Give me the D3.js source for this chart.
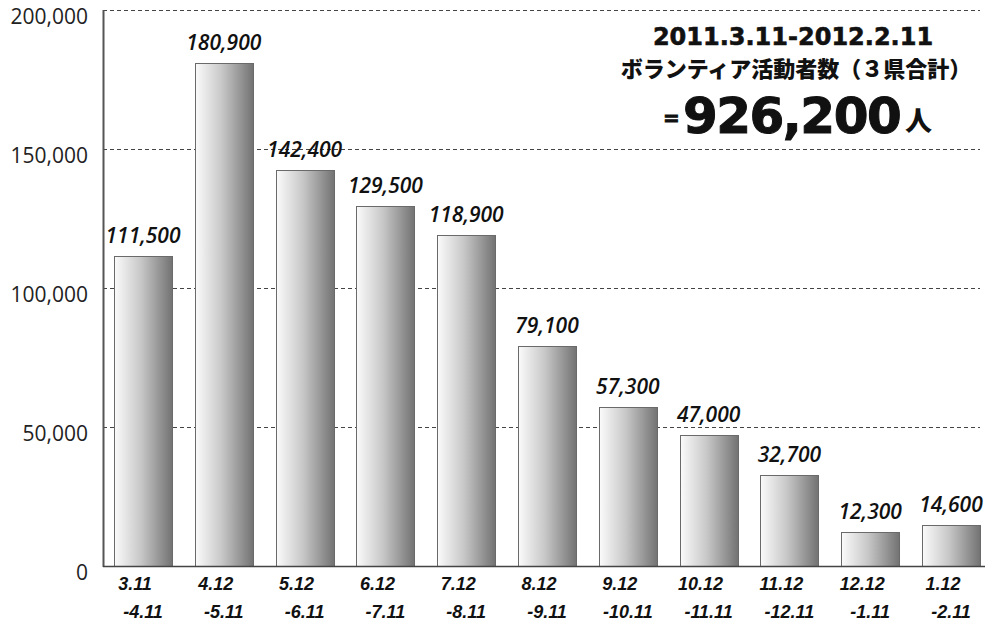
<!DOCTYPE html>
<html><head><meta charset="utf-8">
<script src="https://cdn.jsdelivr.net/npm/d3@7"></script>
<style>
html,body{margin:0;padding:0;background:#fff;}
svg{display:block;}
</style></head>
<body>
<svg id="chart" width="985" height="625"></svg>
<script>
const periodStart = ["3.11","4.12","5.12","6.12","7.12","8.12","9.12","10.12","11.12","12.12","1.12"];
const periodEnd = ["-4.11","-5.11","-6.11","-7.11","-8.11","-9.11","-10.11","-11.11","-12.11","-1.11","-2.11"];
const volunteers = [111500,180900,142400,129500,118900,79100,57300,47000,32700,12300,14600];
const yTicks = [0,50000,100000,150000,200000];
const titleLines = ["2011.3.11-2012.2.11","ボランティア活動者数（３県合計）"];
const totalValue = 926200;
const totalUnit = "人";

(function(){
const svg = d3.select("#chart");
const pLeft = 103, pRight = 980, pTop = 10, pBottom = 566;

const x = d3.scaleBand().domain(d3.range(volunteers.length))
  .range([102.6, 991.4]).paddingInner(0.282).paddingOuter(0.141);
const y = d3.scaleLinear().domain([0,200000]).range([pBottom, pTop]);

const defs = svg.append("defs");
const g = defs.append("linearGradient").attr("id","barGrad").attr("x1","0").attr("x2","1").attr("y1","0").attr("y2","0");
g.append("stop").attr("offset","0%").attr("stop-color","#fbfbfb");
g.append("stop").attr("offset","45%").attr("stop-color","#c8c8c8");
g.append("stop").attr("offset","100%").attr("stop-color","#727272");

// gridlines
svg.append("g").selectAll("line").data(yTicks.filter(d=>d>0)).join("line")
  .attr("x1", pLeft).attr("x2", pRight)
  .attr("y1", d=>Math.round(y(d))+0.5).attr("y2", d=>Math.round(y(d))+0.5)
  .attr("stroke","#444").attr("stroke-width",1).attr("stroke-dasharray","4,3");

// y axis labels
const yAxis = d3.axisLeft(y).tickValues(yTicks).tickSize(0).tickPadding(15)
  .tickFormat(d3.format(","));
const ya = svg.append("g").attr("transform",`translate(${pLeft},7)`).call(yAxis);
ya.select(".domain").remove();
ya.selectAll("text").attr("font-family","'Open Sans', 'Noto Sans', sans-serif")
  .attr("font-size",21).attr("fill","#222");

// bars
svg.append("g").selectAll("rect").data(volunteers).join("rect")
  .attr("x",(d,i)=>Math.round(x(i))+0.5)
  .attr("y",d=>Math.round(y(d))+0.5)
  .attr("width",Math.round(x.bandwidth()))
  .attr("height",d=>Math.round(pBottom - y(d)))
  .attr("fill","url(#barGrad)")
  .attr("stroke","#6a6a6a").attr("stroke-width",1);

// axis lines
svg.append("line").attr("x1",pLeft+0.5).attr("x2",pLeft+0.5).attr("y1",pTop).attr("y2",pBottom+1)
  .attr("stroke","#555").attr("stroke-width",2);
svg.append("line").attr("x1",pLeft).attr("x2",985).attr("y1",pBottom+0.5).attr("y2",pBottom+0.5)
  .attr("stroke","#444").attr("stroke-width",1.5);

// value labels
svg.append("g").selectAll("text").data(volunteers).join("text")
  .attr("x",(d,i)=>x(i)+x.bandwidth()/2)
  .attr("y",d=>y(d)-13)
  .attr("text-anchor","middle")
  .attr("font-family","'Open Sans', 'Noto Sans', sans-serif")
  .attr("font-style","italic").attr("font-weight",600)
  .attr("font-size",21).attr("fill","#111")
  .text(d=>d3.format(",")(d));

// x labels
const xl = svg.append("g").selectAll("text").data(periodStart).join("text")
  .attr("font-family","Arial, 'Liberation Sans', sans-serif")
  .attr("font-style","italic").attr("font-weight",700)
  .attr("font-size",18).attr("fill","#111").attr("text-anchor","middle");
xl.append("tspan").attr("x",(d,i)=>x(i)+x.bandwidth()/2-8).attr("y",590).text(d=>d);
xl.append("tspan").attr("x",(d,i)=>x(i)+x.bandwidth()/2).attr("y",618).text((d,i)=>periodEnd[i]);

// title block
const lf = "'DejaVu Sans', sans-serif";
const jf = "'Noto Sans CJK JP', sans-serif";
svg.append("text").attr("x",793).attr("y",45).attr("text-anchor","middle")
  .attr("font-family",lf).attr("font-weight",700).attr("font-size",24).attr("fill","#111")
  .attr("stroke","#111").attr("stroke-width",0.6)
  .text(titleLines[0]);
svg.append("text").attr("x",796).attr("y",77).attr("text-anchor","middle")
  .attr("font-family",jf).attr("font-weight",900).attr("font-size",22).attr("fill","#111")
  .text(titleLines[1]);
svg.append("text").attr("x",663).attr("y",125)
  .attr("font-family",lf).attr("font-weight",700).attr("font-size",20).attr("fill","#111")
  .attr("stroke","#111").attr("stroke-width",0.8)
  .text("=");
svg.append("text").attr("x",683).attr("y",133)
  .attr("font-family",lf).attr("font-weight",700).attr("font-size",50).attr("letter-spacing",-1.5)
  .attr("fill","#111").attr("stroke","#111").attr("stroke-width",1)
  .text(d3.format(",")(totalValue));
svg.append("text").attr("x",905).attr("y",131)
  .attr("font-family",jf).attr("font-weight",900).attr("font-size",27).attr("fill","#111")
  .text(totalUnit);
})();
</script>
</body></html>
